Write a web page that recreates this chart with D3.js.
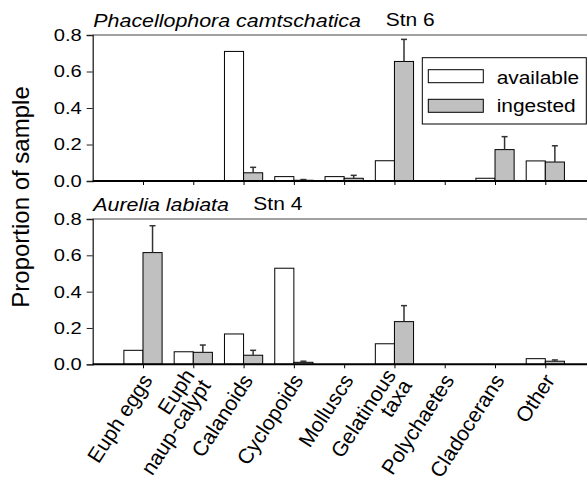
<!DOCTYPE html>
<html>
<head>
<meta charset="utf-8">
<script src="https://cdn.jsdelivr.net/npm/d3@7"></script>
<style>
  html, body { margin: 0; padding: 0; background: #fff; }
  svg { display: block; font-family: "Liberation Sans", Arial, Helvetica, sans-serif; }
</style>
</head>
<body>
<svg id="chart" width="587" height="480"></svg>
<script>
// Prey categories (multi-line labels as arrays of lines)
const categories = [
  ["Euph eggs"],
  ["Euph", "naup-calypt"],
  ["Calanoids"],
  ["Cyclopoids"],
  ["Molluscs"],
  ["Gelatinous", "taxa"],
  ["Polychaetes"],
  ["Cladocerans"],
  ["Other"]
];

// Phacellophora camtschatica, Stn 6
const phacAvailable = [0, 0, 0.71, 0.024, 0.024, 0.111, 0, 0.015, 0.11];
const phacIngested  = [0, 0, 0.045, 0.004, 0.015, 0.655, 0, 0.172, 0.104];
const phacError     = [0, 0, 0.03, 0.004, 0.016, 0.121, 0, 0.071, 0.089];

// Aurelia labiata, Stn 4
const aurAvailable = [0.077, 0.069, 0.167, 0.529, 0, 0.113, 0, 0, 0.031];
const aurIngested  = [0.615, 0.066, 0.05, 0.011, 0, 0.235, 0, 0, 0.017];
const aurError     = [0.148, 0.04, 0.027, 0.006, 0, 0.088, 0, 0, 0.007];

const yTicks = [0, 0.2, 0.4, 0.6, 0.8];
const legendLabels = ["available", "ingested"];

const panels = [
  { species: "Phacellophora camtschatica", station: "Stn 6",
    available: phacAvailable, ingested: phacIngested, error: phacError,
    top: 35, bottom: 181, stnX: 385.7, legend: true },
  { species: "Aurelia labiata", station: "Stn 4",
    available: aurAvailable, ingested: aurIngested, error: aurError,
    top: 219, bottom: 364.3, stnX: 253.3, legend: false }
];

const svg = d3.select("#chart");
const left = 92.7;
const x = d3.scaleLinear().domain([0, categories.length + 1]).range([left, 595.6]);
const step = x(1) - x(0);
const barW = step * 0.38;

const fillAvail = "#ffffff";
const fillIng = "#c0c0c0";

// horizontally widened text helper
function wideText(g, tx, ty, str, size, sx, opts = {}) {
  const t = g.append("text")
    .attr("transform", `translate(${tx},${ty}) scale(${sx},1)`)
    .attr("font-size", size)
    .attr("fill", "#000")
    .text(str);
  if (opts.italic) t.attr("font-style", "italic");
  if (opts.anchor) t.attr("text-anchor", opts.anchor);
  if (opts.baseline) t.attr("dominant-baseline", opts.baseline);
  return t;
}

panels.forEach(p => {
  const y = d3.scaleLinear().domain([0, 0.8]).range([p.bottom, p.top]);
  const g = svg.append("g");

  // top frame line
  g.append("line")
    .attr("x1", left).attr("x2", 600)
    .attr("y1", y(0.8)).attr("y2", y(0.8))
    .attr("stroke", "#444").attr("stroke-width", 1);

  // y axis
  const yAxis = d3.axisLeft(y).tickValues(yTicks).tickFormat(d3.format(".1f")).tickSize(6).tickPadding(4);
  const ya = g.append("g").attr("transform", `translate(${left},0)`).call(yAxis);
  ya.select(".domain").attr("stroke", "#222").attr("stroke-width", 1.3);
  ya.selectAll(".tick line").attr("stroke", "#222").attr("stroke-width", 1);
  ya.selectAll(".tick text").remove();
  yTicks.forEach(v => {
    wideText(g, 81.7, y(v), d3.format(".1f")(v), 16.8, 1.2, { anchor: "end", baseline: "central" });
  });

  // bars
  const idx = d3.range(categories.length);
  g.selectAll("rect.avail")
    .data(idx.filter(i => p.available[i] > 0))
    .join("rect")
    .attr("class", "avail")
    .attr("x", i => x(i + 1) - barW)
    .attr("width", barW)
    .attr("y", i => y(p.available[i]))
    .attr("height", i => y(0) - y(p.available[i]))
    .attr("fill", fillAvail).attr("stroke", "#000").attr("stroke-width", 1);

  g.selectAll("rect.ing")
    .data(idx.filter(i => p.ingested[i] > 0))
    .join("rect")
    .attr("class", "ing")
    .attr("x", i => x(i + 1))
    .attr("width", barW)
    .attr("y", i => y(p.ingested[i]))
    .attr("height", i => y(0) - y(p.ingested[i]))
    .attr("fill", fillIng).attr("stroke", "#000").attr("stroke-width", 1);

  // error bars (upper only)
  const eb = g.selectAll("g.err")
    .data(idx.filter(i => p.error[i] > 0))
    .join("g").attr("class", "err");
  eb.append("line")
    .attr("x1", i => x(i + 1) + barW / 2).attr("x2", i => x(i + 1) + barW / 2)
    .attr("y1", i => y(p.ingested[i])).attr("y2", i => y(p.ingested[i] + p.error[i]))
    .attr("stroke", "#333").attr("stroke-width", 1.5);
  eb.append("line")
    .attr("x1", i => x(i + 1) + barW / 2 - 3).attr("x2", i => x(i + 1) + barW / 2 + 3)
    .attr("y1", i => y(p.ingested[i] + p.error[i])).attr("y2", i => y(p.ingested[i] + p.error[i]))
    .attr("stroke", "#333").attr("stroke-width", 1.5);

  // x axis baseline with outward ticks at category centres
  const xAxis = d3.axisBottom(x).tickValues(d3.range(1, categories.length + 1)).tickSize(4).tickFormat("");
  const xa = g.append("g").attr("transform", `translate(0,${y(0)})`).call(xAxis);
  xa.select(".domain").attr("stroke", "#000").attr("stroke-width", 2).attr("d", `M${left},0H600`);
  xa.selectAll(".tick line").attr("stroke", "#000").attr("stroke-width", 1);

  // panel titles
  wideText(g, 93.3, p.top - 8.5, p.species, 18, 1.19, { italic: true });
  wideText(g, p.stnX, p.top - 9, p.station, 18, 1.166);

  // legend
  if (p.legend) {
    const lg = g.append("g");
    lg.append("rect").attr("x", 422.3).attr("y", 57.7).attr("width", 164).attr("height", 66.3)
      .attr("fill", "#fff").attr("stroke", "#000").attr("stroke-width", 1);
    [fillAvail, fillIng].forEach((f, k) => {
      lg.append("rect").attr("x", 428.3).attr("y", 69.7 + k * 29.6).attr("width", 55).attr("height", 13)
        .attr("fill", f).attr("stroke", "#000").attr("stroke-width", 1);
      wideText(lg, 496.7, 84.3 + k * 28, legendLabels[k], 18.5, 1.13);
    });
  }
});

// category labels along the lower axis
const yBase = panels[1].bottom;
const lh = 19;
categories.forEach((lines, i) => {
  const t = svg.append("text")
    .attr("transform", `translate(${x(i + 1) + 4},${yBase + 12}) rotate(-57)`)
    .attr("text-anchor", "end")
    .attr("font-size", 21)
    .attr("fill", "#000");
  const n = lines.length;
  lines.forEach((ln, k) => {
    t.append("tspan")
      .attr("x", 0)
      .attr("y", (k - (n - 1) / 2) * lh)
      .attr("dy", "0.35em")
      .text(ln);
  });
});

// y axis title
svg.append("text")
  .attr("transform", `translate(28.8,197) rotate(-90)`)
  .attr("text-anchor", "middle")
  .attr("font-size", 24)
  .attr("fill", "#000")
  .text("Proportion of sample");
</script>
</body>
</html>
